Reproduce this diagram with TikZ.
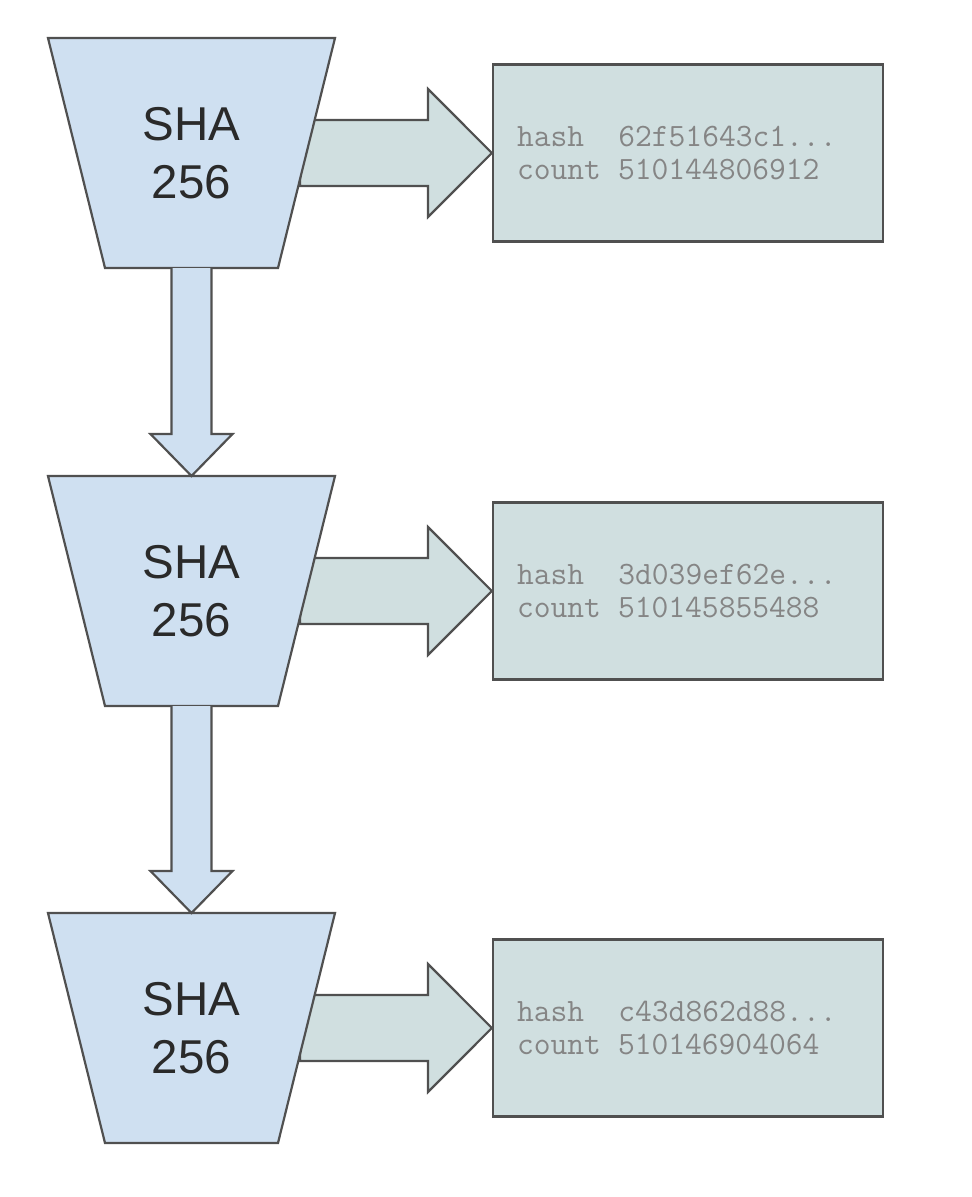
\documentclass[tikz,border=0pt]{standalone}
\usepackage{fontspec}
\setmainfont{Liberation Sans}
\setmonofont{Latin Modern Mono}
\usetikzlibrary{calc}
\definecolor{trapfill}{HTML}{CFE0F1}
\definecolor{boxfill}{HTML}{D0DFE0}
\definecolor{linec}{HTML}{505050}
\definecolor{monotext}{HTML}{858585}
\definecolor{shatextc}{HTML}{2A2A2A}
\newcommand\tdots{...}
\newcommand\msp{\hspace{0.525em}}
\begin{document}
\begin{tikzpicture}[x=1pt,y=-1pt,
  edge/.style={draw=linec, line width=2.2pt, line join=miter},
  trap/.style={edge, fill=trapfill},
  rarrow/.style={edge, fill=boxfill},
  darrow/.style={edge, fill=trapfill},
  box/.style={edge, fill=boxfill, rectangle, minimum width=390pt, minimum height=177pt,
    inner xsep=24pt, inner ysep=0pt, text width=342pt, align=left,
    font=\ttfamily\fontsize{32.6}{33}\selectfont, text=monotext},
  shatext/.style={inner sep=0pt, align=center, text=shatextc,
    font=\fontsize{47.5}{58}\selectfont}]
\useasboundingbox (0,0) rectangle (972,1197);
\foreach \i/\yc/\h/\c in {1/153/62f51643c1\tdots/510144806912,
                           2/591/3d039ef62e\tdots/510145855488,
                           3/1028/c43d862d88\tdots/510146904064}{
  \coordinate (n\i) at (191.5,\yc-115);
  \coordinate (s\i) at (191.5,\yc+115);
  \node[box] (b\i) at (688,\yc) {hash\msp\msp\h\\count\msp\c};
  \draw[rarrow] (300,\yc-33) -- (428,\yc-33) -- (428,\yc-64) -- (b\i.west)
     -- (428,\yc+64) -- (428,\yc+33) -- (300,\yc+33) -- cycle;
  \draw[trap] (48,\yc-115) -- (335,\yc-115) -- (278,\yc+115) -- (105,\yc+115) -- cycle;
  \node[shatext] (t\i) at (191.5,\yc) {SHA\\256};
}
\foreach \a/\b in {1/2,2/3}{
  \draw[darrow] ($(s\a)+(-20,0)$) -- ($(n\b)+(-20,-42)$) -- ($(n\b)+(-41,-42)$)
     -- (n\b) -- ($(n\b)+(41,-42)$) -- ($(n\b)+(20,-42)$) -- ($(s\a)+(20,0)$);
}
\end{tikzpicture}
\end{document}
